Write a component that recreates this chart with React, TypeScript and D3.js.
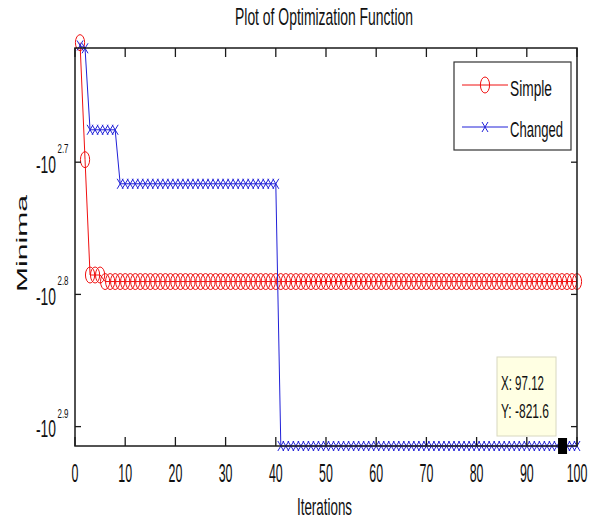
import React from "react";
import * as d3 from "d3";

const simpleValues: number[] = [
  -407, -499, -610, -610, -610, -617, -617, -617, -617, -617,
  -617, -617, -617, -617, -617, -617, -617, -617, -617, -617,
  -617, -617, -617, -617, -617, -617, -617, -617, -617, -617,
  -617, -617, -617, -617, -617, -617, -617, -617, -617, -617,
  -617, -617, -617, -617, -617, -617, -617, -617, -617, -617,
  -617, -617, -617, -617, -617, -617, -617, -617, -617, -617,
  -617, -617, -617, -617, -617, -617, -617, -617, -617, -617,
  -617, -617, -617, -617, -617, -617, -617, -617, -617, -617,
  -617, -617, -617, -617, -617, -617, -617, -617, -617, -617,
  -617, -617, -617, -617, -617, -617, -617, -617, -617, -617,
];

const changedValues: number[] = [
  -409, -411, -473.7, -473.7, -473.7, -473.7, -473.7, -473.7, -520.4, -520.4,
  -520.4, -520.4, -520.4, -520.4, -520.4, -520.4, -520.4, -520.4, -520.4, -520.4,
  -520.4, -520.4, -520.4, -520.4, -520.4, -520.4, -520.4, -520.4, -520.4, -520.4,
  -520.4, -520.4, -520.4, -520.4, -520.4, -520.4, -520.4, -520.4, -520.4, -520.4,
  -821.6, -821.6, -821.6, -821.6, -821.6, -821.6, -821.6, -821.6, -821.6, -821.6,
  -821.6, -821.6, -821.6, -821.6, -821.6, -821.6, -821.6, -821.6, -821.6, -821.6,
  -821.6, -821.6, -821.6, -821.6, -821.6, -821.6, -821.6, -821.6, -821.6, -821.6,
  -821.6, -821.6, -821.6, -821.6, -821.6, -821.6, -821.6, -821.6, -821.6, -821.6,
  -821.6, -821.6, -821.6, -821.6, -821.6, -821.6, -821.6, -821.6, -821.6, -821.6,
  -821.6, -821.6, -821.6, -821.6, -821.6, -821.6, -821.6, -821.6, -821.6, -821.6,
];

const xTicks: number[] = [0, 10, 20, 30, 40, 50, 60, 70, 80, 90, 100];
const yTickExponents: string[] = ["2.7", "2.8", "2.9"];
const seriesNames: string[] = ["Simple", "Changed"];
const dataTipX = 97.12;
const dataTipY = -821.6;

const FONT = "'Liberation Sans Narrow', 'Liberation Sans', Arial, sans-serif";
const RED = "#f01010";
const BLUE = "#2020d8";

function Circle({ cx, cy }: { cx: number; cy: number }) {
  return <ellipse cx={cx} cy={cy} rx={4.6} ry={8} fill="none" stroke={RED} strokeWidth={1} />;
}
function XMark({ cx, cy }: { cx: number; cy: number }) {
  const rx = 3, ry = 5;
  return (
    <g stroke={BLUE} strokeWidth={1}>
      <line x1={cx - rx} y1={cy - ry} x2={cx + rx} y2={cy + ry} />
      <line x1={cx - rx} y1={cy + ry} x2={cx + rx} y2={cy - ry} />
    </g>
  );
}

export default function App() {
  const W = 589, H = 525;
  const left = 75, right = 577, top = 48, bottom = 446;
  const x = d3.scaleLinear().domain([0, 100]).range([left, right]);
  const y = d3.scaleLog().domain([-410.8, -821.6]).range([top, bottom]);

  const simplePts = simpleValues.map((v, i) => [x(i + 1), y(v)] as [number, number]);
  const changedPts = changedValues.map((v, i) => [x(i + 1), y(v)] as [number, number]);
  const line = d3.line<[number, number]>();

  return (
    <svg width={W} height={H} style={{ position: "absolute", left: 0, top: 0, background: "#fff" }}>
      <rect x={0} y={0} width={W} height={H} fill="#fff" />
      {/* title */}
      <text x={235} y={25} fontFamily={FONT} fontSize={24} textLength={178} lengthAdjust="spacingAndGlyphs" fill="#111">
        Plot of Optimization Function
      </text>

      {/* data */}
      <path d={line(simplePts) || ""} fill="none" stroke={RED} strokeWidth={1} />
      {simplePts.map((p, i) => <Circle key={"s" + i} cx={p[0]} cy={p[1]} />)}
      <path d={line(changedPts) || ""} fill="none" stroke={BLUE} strokeWidth={1} />
      {changedPts.map((p, i) => <XMark key={"c" + i} cx={p[0]} cy={p[1]} />)}

      {/* axes box */}
      <rect x={left} y={top} width={right - left} height={bottom - top} fill="none" stroke="#1a1a1a" strokeWidth={1.5} />
      {xTicks.map((t) => (
        <g key={"xt" + t}>
          <line x1={x(t)} x2={x(t)} y1={bottom} y2={bottom - 9} stroke="#1a1a1a" strokeWidth={1.3} />
          <line x1={x(t)} x2={x(t)} y1={top} y2={top + 9} stroke="#1a1a1a" strokeWidth={1.3} />
          <text x={x(t)} y={482} textAnchor="middle" fontFamily={FONT} fontSize={25}
            textLength={String(t).length * 6.9} lengthAdjust="spacingAndGlyphs" fill="#111">
            {t}
          </text>
        </g>
      ))}
      {yTickExponents.map((e) => {
        const yy = y(-Math.pow(10, parseFloat(e)));
        return (
          <g key={"yt" + e}>
            <line x1={left} x2={left + 6} y1={yy} y2={yy} stroke="#1a1a1a" strokeWidth={1.3} />
            <line x1={right} x2={right - 6} y1={yy} y2={yy} stroke="#1a1a1a" strokeWidth={1.3} />
            <text x={36} y={yy + 10.5} fontFamily={FONT} fontSize={23} textLength={20} lengthAdjust="spacingAndGlyphs" fill="#111">
              -10
            </text>
            <text x={57.5} y={yy - 9} fontFamily={FONT} fontSize={12.5} textLength={11} lengthAdjust="spacingAndGlyphs" fill="#111">
              {e}
            </text>
          </g>
        );
      })}

      {/* axis labels */}
      <text x={297} y={515} fontFamily={FONT} fontSize={24} textLength={55} lengthAdjust="spacingAndGlyphs" fill="#111">
        Iterations
      </text>
      <text transform="translate(27,292) rotate(-90)" fontFamily={FONT} fontSize={15.5} textLength={97} lengthAdjust="spacingAndGlyphs" fill="#111">
        Minima
      </text>

      {/* legend */}
      <rect x={454} y={62} width={117} height={88} fill="#fff" stroke="#333" strokeWidth={1.2} />
      <line x1={462} x2={508} y1={85} y2={85} stroke={RED} strokeWidth={1} />
      <Circle cx={485} cy={85} />
      <text x={510} y={96} fontFamily={FONT} fontSize={22} textLength={42} lengthAdjust="spacingAndGlyphs" fill="#111">
        {seriesNames[0]}
      </text>
      <line x1={462} x2={508} y1={127} y2={127} stroke={BLUE} strokeWidth={1} />
      <XMark cx={485} cy={127} />
      <text x={510} y={137} fontFamily={FONT} fontSize={22} textLength={53} lengthAdjust="spacingAndGlyphs" fill="#111">
        {seriesNames[1]}
      </text>

      {/* data tip */}
      <rect x={497} y={357} width={59} height={79} fill="#ffffe3" stroke="#d8d8c0" strokeWidth={1} />
      <text x={501} y={390} fontFamily={FONT} fontSize={20} textLength={43} lengthAdjust="spacingAndGlyphs" fill="#111">
        {"X: " + dataTipX}
      </text>
      <text x={501} y={418} fontFamily={FONT} fontSize={20} textLength={48} lengthAdjust="spacingAndGlyphs" fill="#111">
        {"Y: " + dataTipY}
      </text>
      <rect x={x(dataTipX) - 4.5} y={y(dataTipY) - 8} width={9} height={16} fill="#000" />
    </svg>
  );
}
